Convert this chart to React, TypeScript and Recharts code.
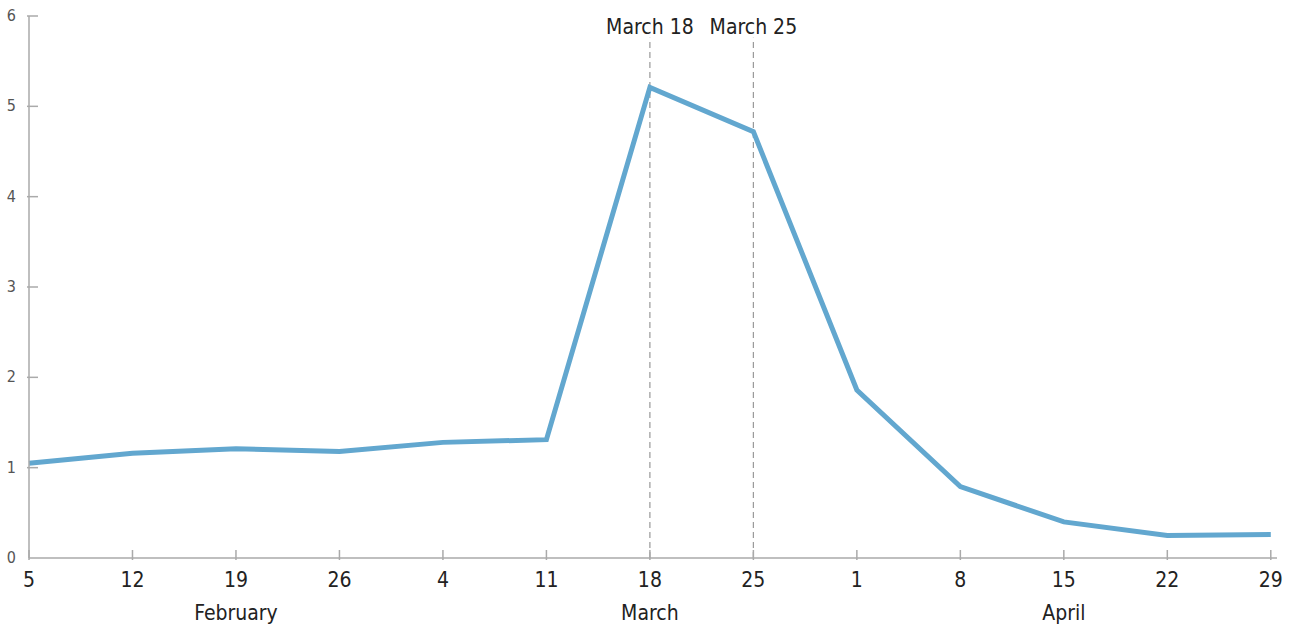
import React from "react";
import {
  LineChart,
  Line,
  XAxis,
  YAxis,
  ReferenceLine,
} from "recharts";

const dayLabels = ["5", "12", "19", "26", "4", "11", "18", "25", "1", "8", "15", "22", "29"];
const values = [1.05, 1.16, 1.21, 1.18, 1.28, 1.31, 5.21, 4.72, 1.86, 0.79, 0.4, 0.25, 0.26];
const monthLabels: Record<number, string> = { 2: "February", 6: "March", 10: "April" };
const yTicks = [0, 1, 2, 3, 4, 5, 6];
const markers = [
  { idx: 6, label: "March 18" },
  { idx: 7, label: "March 25" },
];

const FONT = "'Liberation Sans Narrow', 'DejaVu Sans Condensed', 'Roboto', sans-serif";

const data = values.map((v, i) => ({ idx: i, value: v }));

function XTick(props: any) {
  const { x, y, payload } = props;
  const i = payload.value as number;
  const month = monthLabels[i];
  return (
    <g>
      <line x1={x} x2={x} y1={y} y2={y - 10} stroke="#aaa" strokeWidth={1.5} />
      <text x={x} y={y + 27} textAnchor="middle" fontSize={21} fill="#222" fontFamily={FONT}>
        {dayLabels[i]}
      </text>
      {month && (
        <text x={x} y={y + 60} textAnchor="middle" fontSize={21} fill="#222" fontFamily={FONT}>
          {month}
        </text>
      )}
    </g>
  );
}

function YTick(props: any) {
  const { x, y, payload } = props;
  return (
    <g>
      {payload.value > 0 && (
        <line x1={x} x2={x + 11} y1={y} y2={y} stroke="#aaa" strokeWidth={1.5} />
      )}
      <text x={x - 11} y={y + 5} textAnchor="end" fontSize={16} fill="#555" fontFamily={FONT}>
        {payload.value}
      </text>
    </g>
  );
}

function MarkerLabel(props: any) {
  const { viewBox, value } = props;
  return (
    <text
      x={viewBox.x}
      y={viewBox.y - 4}
      textAnchor="middle"
      fontSize={21}
      fill="#222"
      fontFamily={FONT}
    >
      {value}
    </text>
  );
}

export default function App() {
  return (
    <div style={{ position: "absolute", left: 0, top: 0, background: "#fff" }}>
      <LineChart
        width={1293}
        height={625}
        data={data}
        margin={{ top: 16, right: 16, left: 0, bottom: 0 }}
      >
        <XAxis
          dataKey="idx"
          type="number"
          domain={[0, 12.06]}
          ticks={dayLabels.map((_, i) => i)}
          tick={<XTick />}
          tickLine={false}
          tickSize={0}
          height={67}
          axisLine={{ stroke: "#aaa", strokeWidth: 1.5 }}
          interval={0}
        />
        <YAxis
          domain={[0, 6]}
          ticks={yTicks}
          tick={<YTick />}
          tickLine={false}
          tickSize={0}
          width={29}
          axisLine={{ stroke: "#aaa", strokeWidth: 1.5 }}
          interval={0}
        />
        {markers.map((m) => (
          <ReferenceLine
            key={m.label}
            segment={[
              { x: m.idx, y: 0 },
              { x: m.idx, y: 5.76 },
            ]}
            stroke="#999"
            strokeDasharray="6 4"
            strokeWidth={1.2}
            label={<MarkerLabel value={m.label} />}
          />
        ))}
        <Line
          type="linear"
          dataKey="value"
          stroke="#62a7cf"
          strokeWidth={5}
          dot={false}
          isAnimationActive={false}
        />
      </LineChart>
    </div>
  );
}
